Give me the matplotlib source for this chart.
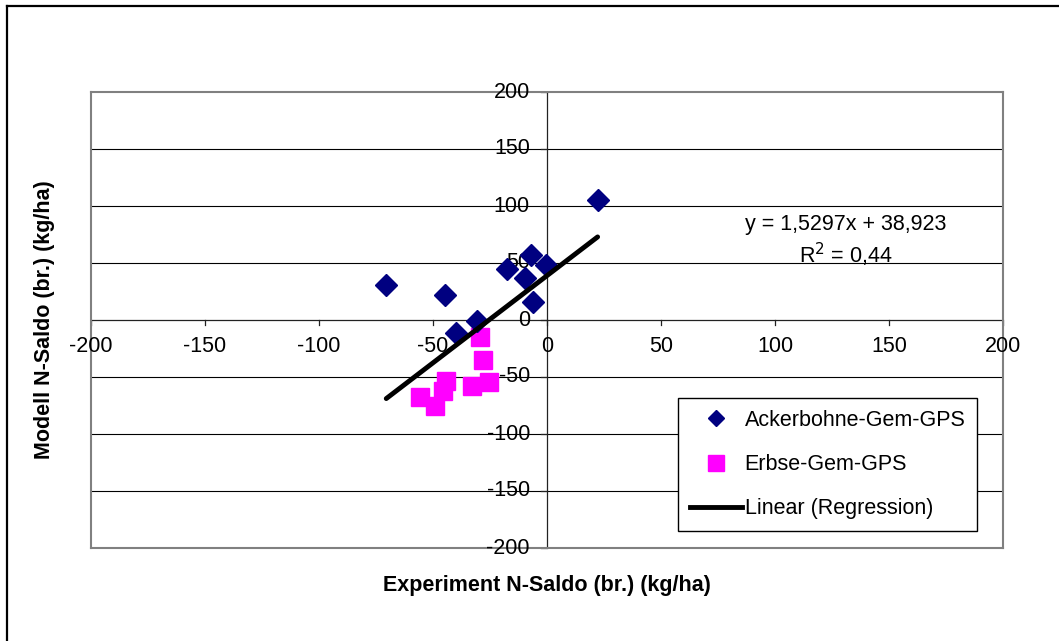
import numpy as np
import matplotlib
matplotlib.use("Agg")
import matplotlib.pyplot as plt
from matplotlib.lines import Line2D

plt.rcParams['font.family'] = ['Liberation Sans', 'DejaVu Sans']

# Ackerbohne-Gem-GPS
acker_x = [-70.5, -44.9, -39.9, -30.7, -17.5, -6.9, -9.8, -0.4, -6.1, 22.2]
acker_y = [30.4, 21.7, -11.0, -1.0, 44.5, 56.7, 37.2, 48.0, 15.8, 105.3]

# Erbse-Gem-GPS
erbse_x = [-29.6, -28.1, -25.4, -33.1, -44.5, -45.4, -55.6, -49.1]
erbse_y = [-14.6, -35.0, -54.4, -57.9, -53.5, -62.3, -67.2, -75.4]

# Regression (aus Trendlinie)
slope = 1.5297
intercept = 38.923
eq_text = "y = 1,5297x + 38,923"
r2_text = "R$^2$ = 0,44"

ticks = [-200, -150, -100, -50, 0, 50, 100, 150, 200]

fig = plt.figure(figsize=(10.59, 6.41), dpi=100)
# aeusserer Rahmen
fig.add_artist(Line2D([7/1059, 7/1059], [0, 1-6/641], color='black', lw=1.6))
fig.add_artist(Line2D([7/1059, 1], [1-6/641, 1-6/641], color='black', lw=1.6))

ax = fig.add_axes([91/1059, 1-548/641, 912/1059, 456/641])
ax.set_xlim(-200, 200)
ax.set_ylim(-200, 200)

for s in ax.spines.values():
    s.set_color('#808080')
    s.set_linewidth(1.5)

# Gitterlinien
for t in ticks:
    if t not in (-200, 0, 200):
        ax.axhline(t, color='black', lw=0.8, zorder=1)

# Achsen durch Null
ax.axhline(0, color='#222222', lw=0.9, zorder=2)
ax.axvline(0, color='#222222', lw=0.9, zorder=2)
for t in ticks:
    ax.plot([t, t], [0, -4.5], color='#222222', lw=0.9, zorder=2, clip_on=False)
    ax.plot([0, -2.6], [t, t], color='#222222', lw=0.9, zorder=2, clip_on=False)

ax.set_xticks([])
ax.set_yticks([])
fs = 15.5
for t in ticks:
    ax.text(t, -14, str(t), ha='center', va='top', fontsize=fs)
    ax.text(-7.5, t, str(t), ha='right', va='center', fontsize=fs)

ax.plot(acker_x, acker_y, linestyle='none', marker='D', ms=11.5,
        color='#000080', zorder=4)
ax.plot(erbse_x, erbse_y, linestyle='none', marker='s', ms=13.5,
        color='#FF00FF', zorder=3)

all_x = acker_x + erbse_x
lx = np.array([min(all_x), max(all_x)])
ax.plot(lx, slope * lx + intercept, color='black', lw=3.5, zorder=5,
        solid_capstyle='round')

ax.text(131, 84, eq_text, ha='center', va='center', fontsize=fs)
ax.text(131, 57, r2_text, ha='center', va='center', fontsize=fs)

h_a = Line2D([], [], linestyle='none', marker='D', ms=8, color='#000080')
h_e = Line2D([], [], linestyle='none', marker='s', ms=11, color='#FF00FF')
h_l = Line2D([], [], color='black', lw=3.5)
leg = ax.legend([h_a, h_e, h_l],
                ['Ackerbohne-Gem-GPS', 'Erbse-Gem-GPS', 'Linear (Regression)'],
                loc='upper left', bbox_to_anchor=(678/1059, 1-398/641),
                bbox_transform=fig.transFigure, fontsize=fs, frameon=True,
                fancybox=False, edgecolor='black', framealpha=1,
                handlelength=2.4, handletextpad=0.15, labelspacing=1.08,
                borderpad=0.55, borderaxespad=0)
leg.get_frame().set_linewidth(1.0)
leg.set_zorder(10)

fig.text(547/1059, 1-585/641, "Experiment N-Saldo (br.) (kg/ha)",
         ha='center', va='center', fontsize=fs, fontweight='bold')
fig.text(45/1059, 1-320/641, "Modell N-Saldo (br.) (kg/ha)",
         ha='center', va='center', fontsize=fs, fontweight='bold', rotation=90)

fig.savefig("out.png", dpi=100)
